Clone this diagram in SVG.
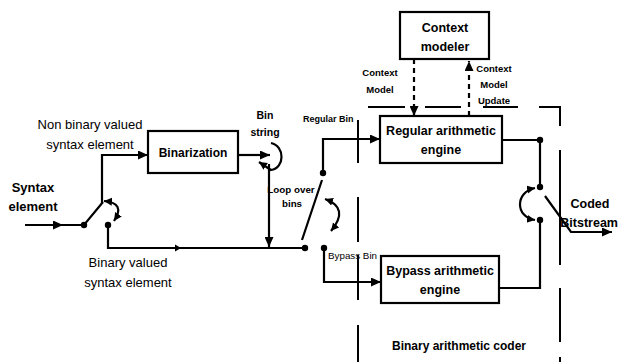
<svg xmlns="http://www.w3.org/2000/svg" width="619" height="362" viewBox="0 0 619 362">
<style>
.box{fill:#fff;stroke:#000;stroke-width:2.2}
.ln{fill:none;stroke:#000;stroke-width:2.2}
.dash{fill:none;stroke:#000;stroke-width:2.2;stroke-dasharray:5 4}
.bd{fill:none;stroke:#000;stroke-width:2}
.dot{fill:#000}
text{font-family:"Liberation Sans",Arial,sans-serif;fill:#000}
.b{font-weight:bold}
</style>
<defs>
<marker id="ar" markerUnits="userSpaceOnUse" markerWidth="11" markerHeight="9" refX="10" refY="4.5" orient="auto-start-reverse"><path d="M0,0 L10,4.5 L0,9 z" fill="#000"/></marker>
<marker id="as" markerUnits="userSpaceOnUse" markerWidth="10" markerHeight="9" refX="8" refY="4" orient="auto-start-reverse"><path d="M0,0 L8,4 L0,8 z" fill="#000"/></marker>
</defs>
<g id="binarization"><rect class="box" x="148" y="131" width="90" height="42"/><text class="b" x="193" y="157" font-size="12" text-anchor="middle">Binarization</text></g>
<g id="context-modeler"><rect class="box" x="400" y="12" width="89" height="47"/><text class="b" x="445" y="32" font-size="12.5" text-anchor="middle">Context</text><text class="b" x="445" y="51" font-size="12.5" text-anchor="middle">modeler</text></g>
<g id="regular-engine"><rect class="box" x="380" y="116" width="122" height="47"/><text class="b" x="441" y="135" font-size="12.5" text-anchor="middle">Regular arithmetic</text><text class="b" x="441" y="154" font-size="12.5" text-anchor="middle">engine</text></g>
<g id="bypass-engine"><rect class="box" x="381" y="256" width="118" height="47"/><text class="b" x="440" y="275" font-size="12.5" text-anchor="middle">Bypass arithmetic</text><text class="b" x="440" y="294" font-size="12.5" text-anchor="middle">engine</text></g>
<g id="coder-boundary">
<path class="bd" d="M358,120 V163 M358,197 V242 M358,255 V300 M358,325 V362 M368,107 H405 M425,107 H461 M483,107 H518 M539,107 H560 V126 M560,150 V265 M560,288 V342 M560,357 V362"/>
<text class="b" x="459" y="350" font-size="12" text-anchor="middle">Binary arithmetic coder</text>
</g>
<g id="connectors">
<path class="ln" d="M25,225 H63" marker-end="url(#ar)"/>
<path class="ln" d="M62,225 H84 L103,202"/>
<path class="ln" d="M102,203 V155 H148" marker-end="url(#ar)"/>
<path class="ln" d="M108,225 V248 H305"/>
<path d="M175,244.5 L181,248 L175,251.5 z" fill="#000"/>
<path class="ln" d="M238,155 H270" marker-end="url(#ar)"/>
<path class="ln" d="M271,143 C285,146 285,168 271,170 L259,162" marker-end="url(#as)"/>
<path class="ln" d="M269,164 V247" marker-end="url(#ar)"/>
<path class="ln" d="M302,240 L322,180"/>
<path class="ln" d="M323,173 V139 H380" marker-end="url(#ar)"/>
<path class="ln" d="M324,248 V282 H381" marker-end="url(#ar)"/>
<path class="ln" d="M325,199 Q350,208 331,231" marker-start="url(#as)" marker-end="url(#as)"/>
<path class="ln" d="M104,201 Q126,203 114,221" marker-start="url(#as)" marker-end="url(#as)"/>
<path class="dash" d="M414,59 V116" marker-end="url(#ar)"/>
<path class="dash" d="M469,116 V61" marker-end="url(#ar)"/>
<path class="ln" d="M502,140 H540 V187"/>
<path class="ln" d="M540,220 V288 H499"/>
<path class="ln" d="M545,196 L571,232 H612" marker-end="url(#ar)"/>
<path class="ln" d="M535,188 C515,192 515,217 535,220" marker-start="url(#as)" marker-end="url(#as)"/>
<circle class="dot" cx="84" cy="225" r="3.2"/>
<circle class="dot" cx="108" cy="225" r="3.2"/>
<circle class="dot" cx="305" cy="248" r="3.2"/>
<circle class="dot" cx="323" cy="173" r="3.2"/>
<circle class="dot" cx="324" cy="248" r="3.2"/>
<circle class="dot" cx="540" cy="140" r="3.2"/>
<circle class="dot" cx="540" cy="187" r="3.2"/>
<circle class="dot" cx="540" cy="220" r="3.2"/>
</g>
<g id="labels">
<text x="90" y="129" font-size="13" text-anchor="middle">Non binary valued</text>
<text x="90" y="149" font-size="13" text-anchor="middle">syntax element</text>
<text class="b" x="33" y="192" font-size="13" text-anchor="middle">Syntax</text>
<text class="b" x="33" y="211" font-size="13" text-anchor="middle">element</text>
<text x="128" y="267" font-size="13" text-anchor="middle">Binary valued</text>
<text x="128" y="287" font-size="13" text-anchor="middle">syntax element</text>
<text class="b" x="265" y="119" font-size="10.5" text-anchor="middle">Bin</text>
<text class="b" x="265" y="136" font-size="10.5" text-anchor="middle">string</text>
<text class="b" x="291" y="193" font-size="9.8" text-anchor="middle">Loop over</text>
<text class="b" x="292" y="207" font-size="9.8" text-anchor="middle">bins</text>
<text class="b" x="303" y="122" font-size="9">Regular Bin</text>
<text x="328" y="259" font-size="9.8">Bypass Bin</text>
<text class="b" x="380" y="76" font-size="9.5" text-anchor="middle">Context</text>
<text class="b" x="380" y="93" font-size="9.5" text-anchor="middle">Model</text>
<text class="b" x="494" y="72" font-size="9.5" text-anchor="middle">Context</text>
<text class="b" x="494" y="88" font-size="9.5" text-anchor="middle">Model</text>
<text class="b" x="494" y="104" font-size="9.5" text-anchor="middle">Update</text>
<text class="b" x="590" y="208" font-size="12.5" text-anchor="middle">Coded</text>
<text class="b" x="618" y="227" font-size="12.5" text-anchor="end">Bitstream</text>
</g>
</svg>
